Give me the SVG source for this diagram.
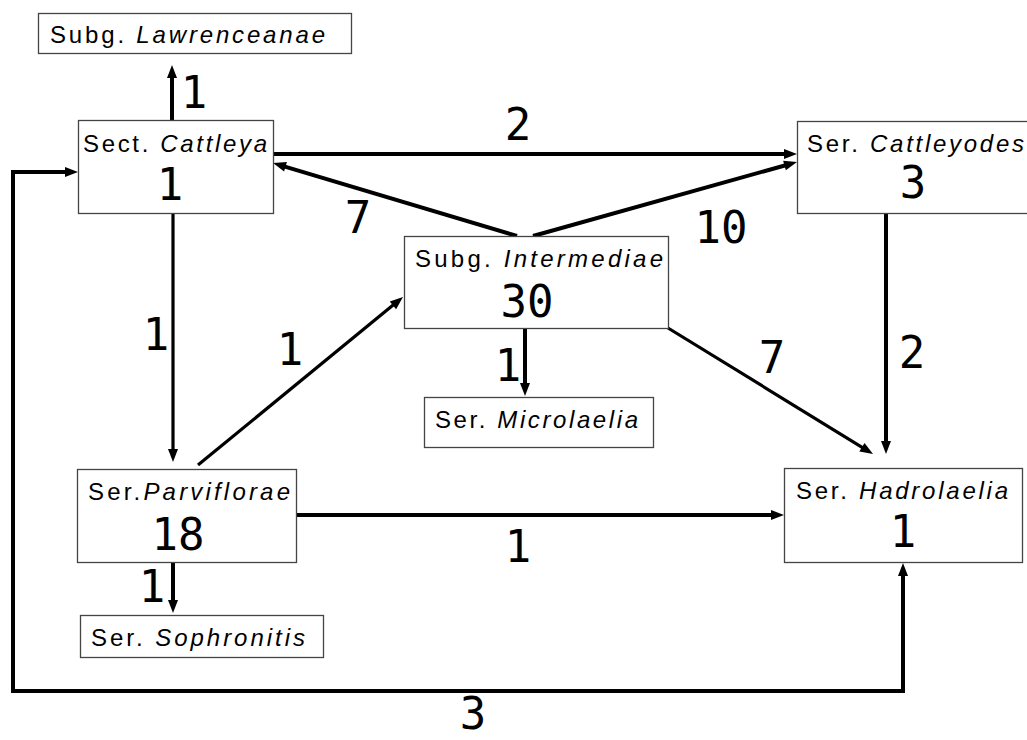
<svg xmlns="http://www.w3.org/2000/svg" width="1027" height="740" viewBox="0 0 1027 740">
  <style>
    .box { fill: #ffffff; stroke: #444444; stroke-width: 1.3; }
    .name { font-family: "Liberation Sans", Arial, sans-serif; font-size: 24px; fill: #000000; }
    .name tspan.g { font-style: italic; }
    .num { font-family: "DejaVu Sans Mono", monospace; font-size: 44px; fill: #000000; text-anchor: middle; }
    .edge { fill: none; stroke: #000000; stroke-width: 4; marker-end: url(#arrow); }
    .thin { stroke-width: 3.2; }
  </style>
  <defs>
    <marker id="arrow" markerUnits="userSpaceOnUse" markerWidth="13" markerHeight="10" refX="5" refY="5" orient="auto-start-reverse" overflow="visible">
      <path d="M0,0 L13,5 L0,10 z" fill="#000000"/>
    </marker>
  </defs>

  <rect width="1027" height="740" fill="#ffffff"/>

  <!-- connectors -->
  <g id="connectors">
    <line class="edge" x1="172" y1="120" x2="172" y2="73"/>
    <line class="edge" x1="273" y1="154" x2="789" y2="154"/>
    <line class="edge" x1="517" y1="236" x2="280.7" y2="165.3"/>
    <line class="edge" x1="533" y1="236" x2="789.3" y2="164.2"/>
    <line class="edge thin" x1="173" y1="213" x2="173" y2="454"/>
    <line class="edge thin" x1="198" y1="465" x2="396.8" y2="302.1"/>
    <line class="edge" x1="525" y1="329" x2="525" y2="388"/>
    <line class="edge thin" x1="668" y1="328" x2="866.2" y2="449.8"/>
    <line class="edge" x1="886" y1="213" x2="886" y2="446"/>
    <line class="edge" x1="295" y1="515" x2="776" y2="515"/>
    <line class="edge" x1="173" y1="563" x2="173" y2="605"/>
    <path class="edge" d="M70,172 H13 V691 H903 V571" marker-start="url(#arrow)"/>

    <!-- connector counts -->
    <text class="num" x="194" y="108">1</text>
    <text class="num" x="518" y="140">2</text>
    <text class="num" x="358" y="233">7</text>
    <text class="num" x="721" y="243">10</text>
    <text class="num" x="156" y="350">1</text>
    <text class="num" x="290" y="365">1</text>
    <text class="num" x="508" y="381">1</text>
    <text class="num" x="772" y="373">7</text>
    <text class="num" x="912" y="368">2</text>
    <text class="num" x="518" y="562">1</text>
    <text class="num" x="152" y="602">1</text>
    <text class="num" x="473" y="729">3</text>
  </g>

  <!-- taxa -->
  <g id="lawrenceanae">
    <rect class="box" x="38.5" y="13.5" width="313" height="40"/>
    <text class="name" x="50" y="43" textLength="275" lengthAdjust="spacing">Subg. <tspan class="g">Lawrenceanae</tspan></text>
  </g>

  <g id="cattleya">
    <rect class="box" x="78.5" y="120.5" width="195" height="93"/>
    <text class="name" x="83" y="152" textLength="184" lengthAdjust="spacing">Sect. <tspan class="g">Cattleya</tspan></text>
    <text class="num" x="170" y="200">1</text>
  </g>

  <g id="cattleyodes">
    <rect class="box" x="797.5" y="121.5" width="240" height="92"/>
    <text class="name" x="807" y="152" textLength="217" lengthAdjust="spacing">Ser. <tspan class="g">Cattleyodes</tspan></text>
    <text class="num" x="913" y="198">3</text>
  </g>

  <g id="intermediae">
    <rect class="box" x="404.5" y="236.5" width="264" height="92"/>
    <text class="name" x="415" y="267" textLength="248" lengthAdjust="spacing">Subg. <tspan class="g">Intermediae</tspan></text>
    <text class="num" x="527" y="317">30</text>
  </g>

  <g id="microlaelia">
    <rect class="box" x="424.5" y="397.5" width="229" height="50"/>
    <text class="name" x="435" y="428" textLength="203" lengthAdjust="spacing">Ser. <tspan class="g">Microlaelia</tspan></text>
  </g>

  <g id="parviflorae">
    <rect class="box" x="77.5" y="469.5" width="219" height="93"/>
    <text class="name" x="88" y="500" textLength="202" lengthAdjust="spacing">Ser.<tspan class="g">Parviflorae</tspan></text>
    <text class="num" x="178" y="550">18</text>
  </g>

  <g id="sophronitis">
    <rect class="box" x="80.5" y="615.5" width="243" height="42"/>
    <text class="name" x="91" y="646" textLength="214" lengthAdjust="spacing">Ser. <tspan class="g">Sophronitis</tspan></text>
  </g>

  <g id="hadrolaelia">
    <rect class="box" x="784.5" y="468.5" width="238" height="94"/>
    <text class="name" x="796" y="499" textLength="212" lengthAdjust="spacing">Ser. <tspan class="g">Hadrolaelia</tspan></text>
    <text class="num" x="903" y="547">1</text>
  </g>
</svg>
